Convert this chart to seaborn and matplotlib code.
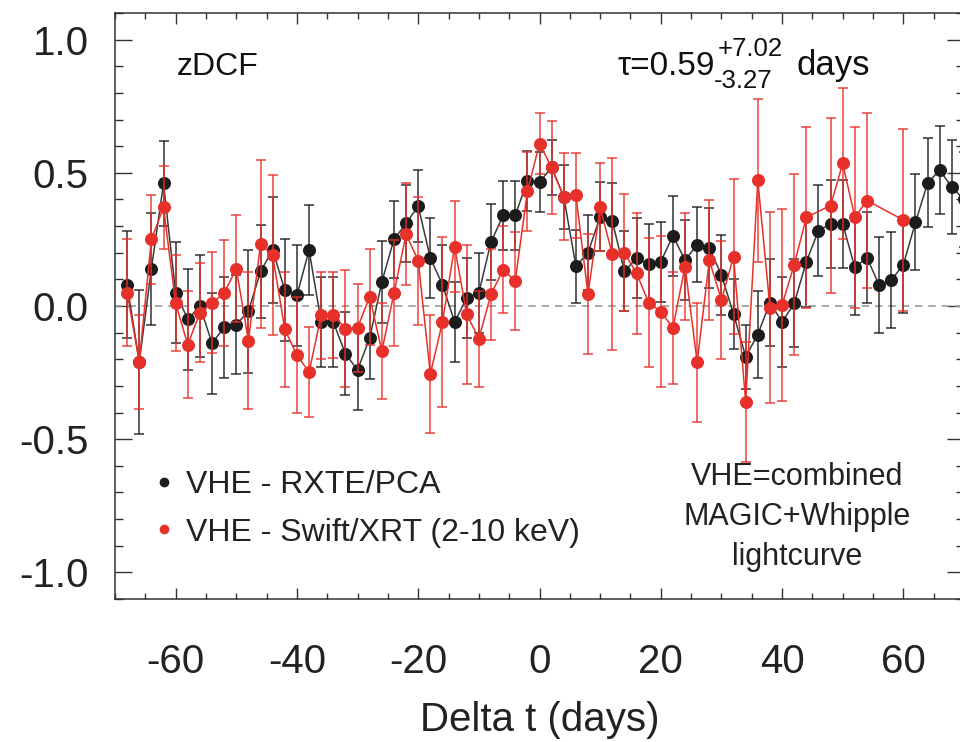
import numpy as np
import matplotlib
matplotlib.use("Agg")
import matplotlib.pyplot as plt
from matplotlib.lines import Line2D
from matplotlib.ticker import MultipleLocator
import seaborn as sns

# zDCF: VHE vs RXTE/PCA (black)
lag_pca = [-68, -66, -64, -62, -60, -58, -56, -54, -52, -50, -48, -46, -44, -42,
           -40, -38, -36, -34, -32, -30, -28, -26, -24, -22, -20, -18, -16, -14,
           -12, -10, -8, -6, -4, -2, 0, 2, 4, 6, 8, 10, 12, 14, 16, 18, 20, 22,
           24, 26, 28, 30, 32, 34, 36, 38, 40, 42, 44, 46, 48, 50, 52, 54, 56,
           58, 60, 62, 64, 66, 68, 70]
dcf_pca = [0.08, -0.21, 0.14, 0.46, 0.05, -0.05, 0.00, -0.14, -0.08, -0.07, -0.02,
           0.13, 0.21, 0.06, 0.04, 0.21, -0.06, -0.06, -0.18, -0.24, -0.12, 0.09,
           0.25, 0.31, 0.375, 0.18, 0.08, -0.06, 0.03, 0.05, 0.24, 0.34, 0.34,
           0.47, 0.465, 0.52, 0.41, 0.15, 0.20, 0.335, 0.32, 0.13, 0.18, 0.157,
           0.166, 0.264, 0.172, 0.23, 0.217, 0.117, -0.03, -0.19, -0.107, 0.013,
           -0.06, 0.01, 0.166, 0.283, 0.308, 0.308, 0.145, 0.182, 0.078, 0.097,
           0.155, 0.314, 0.462, 0.51, 0.446, 0.40]
err_pca = [0.20, 0.27, 0.21, 0.16, 0.19, 0.19, 0.19, 0.19, 0.19, 0.185, 0.23,
           0.175, 0.20, 0.19, 0.19, 0.17, 0.17, 0.17, 0.156, 0.15, 0.153, 0.153,
           0.146, 0.145, 0.135, 0.15, 0.15, 0.15, 0.15, 0.15, 0.143, 0.13, 0.13,
           0.112, 0.112, 0.104, 0.12, 0.137, 0.14, 0.13, 0.14, 0.15, 0.15, 0.15,
           0.15, 0.15, 0.15, 0.14, 0.15, 0.15, 0.13, 0.12, 0.165, 0.165, 0.17,
           0.165, 0.17, 0.17, 0.165, 0.165, 0.18, 0.172, 0.18, 0.18, 0.18, 0.18,
           0.167, 0.165, 0.177, 0.18]

# zDCF: VHE vs Swift/XRT 2-10 keV (red)
lag_xrt = [-68, -66, -64, -62, -60, -58, -56, -54, -52, -50, -48, -46, -44, -42,
           -40, -38, -36, -34, -32, -30, -28, -26, -24, -22, -20, -18, -16, -14,
           -12, -10, -8, -6, -4, -2, 0, 2, 4, 6, 8, 10, 12, 14, 16, 18, 20, 22,
           24, 26, 28, 30, 32, 34, 36, 38, 40, 42, 44, 48, 50, 52, 54, 60]
dcf_xrt = [0.05, -0.21, 0.25, 0.37, 0.01, -0.145, -0.025, 0.013, 0.048, 0.14,
           -0.13, 0.233, 0.19, -0.088, -0.185, -0.248, -0.035, -0.034, -0.085,
           -0.082, 0.035, -0.17, 0.048, 0.27, 0.17, -0.255, -0.06, 0.223, -0.031,
           -0.123, 0.044, 0.136, 0.094, 0.43, 0.61, 0.52, 0.41, 0.415, 0.044,
           0.37, 0.195, 0.20, 0.123, 0.013, -0.021, -0.082, 0.148, -0.211, 0.172,
           0.023, 0.185, -0.36, 0.472, -0.006, 0.004, 0.155, 0.333, 0.377, 0.535,
           0.333, 0.396, 0.323]
err_xrt = [0.20, 0.176, 0.168, 0.157, 0.18, 0.20, 0.185, 0.19, 0.20, 0.20, 0.256,
           0.316, 0.30, 0.216, 0.217, 0.168, 0.164, 0.16, 0.22, 0.164, 0.18, 0.18,
           0.20, 0.19, 0.24, 0.22, 0.32, 0.17, 0.26, 0.18, 0.17, 0.163, 0.185,
           0.148, 0.114, 0.175, 0.164, 0.16, 0.225, 0.165, 0.36, 0.22, 0.228,
           0.242, 0.283, 0.21, 0.20, 0.223, 0.226, 0.222, 0.29, 0.225, 0.305,
           0.36, 0.36, 0.34, 0.34, 0.33, 0.283, 0.34, 0.327, 0.343]

x_ticks = [-60, -40, -20, 0, 20, 40, 60]
y_ticks = [-1.0, -0.5, 0.0, 0.5, 1.0]
labels = ["VHE - RXTE/PCA", "VHE - Swift/XRT (2-10 keV)"]
note_lines = ["VHE=combined", "MAGIC+Whipple", "lightcurve"]

BLACK = "#1c1c1c"
RED = "#e8302a"
TXT = "#222222"

sns.set_style("ticks")
plt.rcParams["font.family"] = ["Liberation Sans", "DejaVu Sans"]
plt.rcParams["axes.unicode_minus"] = False

W, H = 960, 742
fig = plt.figure(figsize=(W / 100, H / 100), dpi=100)
ax = fig.add_axes([115 / W, 1 - 599 / H, (964 - 115) / W, (599 - 13) / H])

ax.axhline(0, color="#9a9a9a", lw=1.2, ls=(0, (4.5, 3.5)), zorder=1)

for lag, dcf, err, col, lcol, z in [
    (lag_pca, dcf_pca, err_pca, BLACK, "#3a3a3a", 2),
    (lag_xrt, dcf_xrt, err_xrt, RED, RED, 4),
]:
    ax.errorbar(lag, dcf, yerr=err, fmt="none", ecolor=col, elinewidth=1.1,
                capsize=3.6, capthick=1.1, alpha=0.9, zorder=z)
    sns.lineplot(x=lag, y=dcf, ax=ax, color=lcol, lw=1.1, sort=False,
                 estimator=None, zorder=z + 0.5)
    sns.scatterplot(x=lag, y=dcf, ax=ax, color=col, s=88, linewidth=0,
                    zorder=z + 1)

ax.set_xlim(-70, 70)
ax.set_ylim(-1.1, 1.1)
ax.set_xticks(x_ticks)
ax.set_yticks(y_ticks)
ax.set_yticklabels([f"{v:.1f}" for v in y_ticks])
ax.xaxis.set_minor_locator(MultipleLocator(5))
ax.yaxis.set_minor_locator(MultipleLocator(0.1))
ax.tick_params(which="both", direction="in", top=True, right=True,
               width=1.0, color="#333333", labelcolor=TXT, labelsize=29)
ax.tick_params(axis="x", which="major", length=8, pad=32)
ax.tick_params(axis="x", which="minor", length=4)
ax.tick_params(axis="y", which="major", length=12, pad=19)
ax.tick_params(axis="y", which="minor", length=5.5)
for sp in ax.spines.values():
    sp.set_linewidth(1.1)
    sp.set_color("#333333")

ax.set_xlabel("Delta t (days)", fontsize=29, color=TXT, labelpad=14)
ax.set_ylabel("")

fig.text(177 / W, 1 - 75 / H, "zDCF", fontsize=23, color="#111111",
         va="baseline", ha="left")

# lag estimate with asymmetric uncertainties
fig.text(618 / W, 1 - 75 / H, "τ=0.59", fontsize=24, color="#111111",
         va="baseline", ha="left")
fig.text(718 / W, 1 - 56 / H, "+7.02", fontsize=18.5, color="#111111",
         va="baseline", ha="left")
fig.text(714 / W, 1 - 88 / H, "-3.27", fontsize=18.5, color="#111111",
         va="baseline", ha="left")
fig.text(797 / W, 1 - 75 / H, "days", fontsize=25, color="#111111",
         va="baseline", ha="left")

for i, line in enumerate(note_lines):
    fig.text(797 / W, 1 - (485 + 40 * i) / H, line, fontsize=22, color=TXT,
             va="baseline", ha="center")

handles = [Line2D([], [], ls="none", marker="o", markersize=7,
                  markerfacecolor=c, markeredgewidth=0) for c in (BLACK, RED)]
ax.legend(handles, labels, loc="upper left", frameon=False, fontsize=23,
          bbox_to_anchor=(156 / W, 1 - 470 / H), bbox_transform=fig.transFigure,
          borderpad=0, borderaxespad=0, handlelength=0.5, handletextpad=0.44,
          labelspacing=0.55, labelcolor=TXT)

fig.savefig("out.png", dpi=100)
